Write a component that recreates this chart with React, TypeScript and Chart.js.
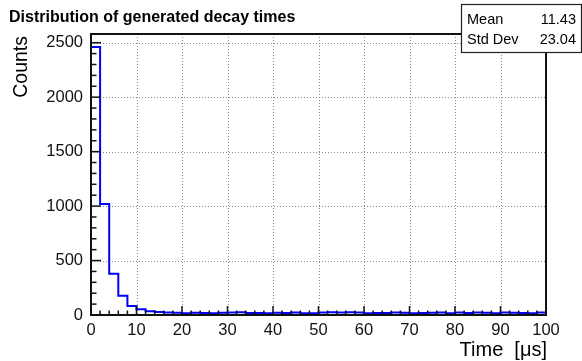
import { useEffect, useRef } from "react";
import { Chart, registerables } from "chart.js";

Chart.register(...registerables);

// ---- data ----
const binWidth = 2;
const xMin = 0;
const xMax = 100;
const yMax = 2580;
const headCounts = [2460, 1020, 378, 176, 83, 52, 34, 27];
const tailCounts = [
  22, 20, 17, 21, 19, 16, 20, 23, 25, 18, 19, 17, 21, 18, 24, 17, 16, 24, 25, 23, 26,
  22, 17, 19, 18, 24, 21, 16, 18, 20, 23, 17, 22, 19, 24, 21, 17, 22, 20, 18, 16, 24,
];
const counts = [...headCounts, ...tailCounts];
const xTicks = [0, 10, 20, 30, 40, 50, 60, 70, 80, 90, 100];
const yTicks = [0, 500, 1000, 1500, 2000, 2500];
const xMinorStep = 2;
const yMinorStep = 100;
const titleText = "Distribution of generated decay times";
const xTitle = "Time  [μs]";
const yTitle = "Counts";
const statsLabels = ["Mean", "Std Dev"];
const statsValues = ["11.43", "23.04"];

const FONT = "'Liberation Sans', Arial, Helvetica, sans-serif";

const rootStyle = {
  id: "rootStyle",
  beforeDatasetsDraw(chart: any) {
    const { ctx, chartArea: a, scales } = chart;
    const x = scales.x;
    const y = scales.y;
    ctx.save();
    ctx.strokeStyle = "#8c8c8c";
    ctx.lineWidth = 1;
    ctx.setLineDash([1, 2]);
    for (const t of xTicks) {
      if (t <= xMin || t >= xMax) continue;
      const px = Math.round(x.getPixelForValue(t)) + 0.5;
      ctx.beginPath();
      ctx.moveTo(px, a.top);
      ctx.lineTo(px, a.bottom);
      ctx.stroke();
    }
    for (const t of yTicks) {
      if (t <= 0) continue;
      const py = Math.round(y.getPixelForValue(t)) + 0.5;
      ctx.beginPath();
      ctx.moveTo(a.left, py);
      ctx.lineTo(a.right, py);
      ctx.stroke();
    }
    ctx.restore();
  },
  afterDatasetsDraw(chart: any) {
    const { ctx, chartArea: a, scales } = chart;
    const x = scales.x;
    const y = scales.y;
    ctx.save();
    ctx.strokeStyle = "#111";
    ctx.lineWidth = 1.5;
    // x ticks
    for (let v = xMin; v <= xMax + 1e-9; v += xMinorStep) {
      const major = xTicks.includes(v);
      const px = x.getPixelForValue(v);
      ctx.beginPath();
      ctx.moveTo(px, a.bottom);
      ctx.lineTo(px, a.bottom - (major ? 9 : 4.5));
      ctx.stroke();
    }
    // y ticks
    for (let v = 0; v <= yMax; v += yMinorStep) {
      const major = yTicks.includes(v);
      const py = y.getPixelForValue(v);
      ctx.beginPath();
      ctx.moveTo(a.left, py);
      ctx.lineTo(a.left + (major ? 10 : 5.5), py);
      ctx.stroke();
    }
    // frame
    ctx.lineWidth = 2;
    ctx.strokeStyle = "#111";
    ctx.strokeRect(a.left, a.top, a.right - a.left, a.bottom - a.top);
    ctx.restore();
  },
  afterDraw(chart: any) {
    const { ctx } = chart;
    ctx.save();
    // title
    ctx.fillStyle = "#000";
    ctx.font = `bold 16px ${FONT}`;
    ctx.textAlign = "left";
    ctx.textBaseline = "alphabetic";
    ctx.fillText(titleText, 9, 22);
    // stats box
    const bx = 461, by = 4, bw = 120, bh = 48;
    ctx.fillStyle = "#fff";
    ctx.fillRect(bx, by, bw, bh);
    ctx.strokeStyle = "#222";
    ctx.lineWidth = 1.2;
    ctx.strokeRect(bx + 0.5, by + 0.5, bw, bh);
    ctx.fillStyle = "#000";
    ctx.font = `14.5px ${FONT}`;
    const rows = [24, 44];
    statsLabels.forEach((lab, i) => {
      ctx.textAlign = "left";
      ctx.fillText(lab, 467, rows[i]);
      ctx.textAlign = "right";
      ctx.fillText(statsValues[i], 576, rows[i]);
    });
    // axis titles
    ctx.font = `20px ${FONT}`;
    ctx.textAlign = "right";
    ctx.fillText(xTitle, 547, 356);
    ctx.save();
    ctx.translate(27, 36);
    ctx.rotate(-Math.PI / 2);
    ctx.font = `19.5px ${FONT}`;
    ctx.textAlign = "right";
    ctx.fillText(yTitle, 0, 0);
    ctx.restore();
    ctx.restore();
  },
};

export default function App() {
  const ref = useRef<HTMLCanvasElement>(null);
  useEffect(() => {
    if (!ref.current) return;
    const pts: { x: number; y: number }[] = [{ x: xMin, y: 0 }];
    counts.forEach((c, i) => pts.push({ x: xMin + i * binWidth, y: c }));
    pts.push({ x: xMin + counts.length * binWidth, y: counts[counts.length - 1] });
    const chart = new Chart(ref.current, {
      type: "line",
      data: {
        datasets: [
          {
            data: pts,
            borderColor: "#0000ff",
            borderWidth: 2,
            pointRadius: 0,
            stepped: true,
            fill: false,
            clip: 4,
          } as any,
        ],
      },
      options: {
        responsive: false,
        animation: false,
        devicePixelRatio: 1,
        events: [],
        layout: { padding: { top: 34, right: 36, left: 0, bottom: 0 } },
        plugins: { legend: { display: false }, tooltip: { enabled: false }, title: { display: false } },
        scales: {
          x: {
            type: "linear",
            min: xMin,
            max: xMax,
            grid: { display: false, drawTicks: false },
            border: { display: false },
            afterBuildTicks: (s: any) => {
              s.ticks = xTicks.map((v) => ({ value: v }));
            },
            afterFit: (s: any) => {
              s.height = 46;
            },
            ticks: {
              autoSkip: false,
              maxRotation: 0,
              padding: 6,
              color: "#111",
              font: { family: FONT, size: 16.5 },
              callback: (v: any) => String(v),
            },
          },
          y: {
            type: "linear",
            min: 0,
            max: yMax,
            grid: { display: false, drawTicks: false },
            border: { display: false },
            afterBuildTicks: (s: any) => {
              s.ticks = yTicks.map((v) => ({ value: v }));
            },
            afterFit: (s: any) => {
              s.width = 91;
            },
            ticks: {
              padding: 8,
              color: "#111",
              font: { family: FONT, size: 16.5 },
              callback: (v: any) => String(v),
            },
          },
        },
      },
      plugins: [rootStyle],
    });
    return () => chart.destroy();
  }, []);
  return (
    <div style={{ position: "fixed", left: 0, top: 0, width: 582, height: 361, background: "#fff" }}>
      <canvas ref={ref} width={582} height={361} style={{ display: "block" }} />
    </div>
  );
}
